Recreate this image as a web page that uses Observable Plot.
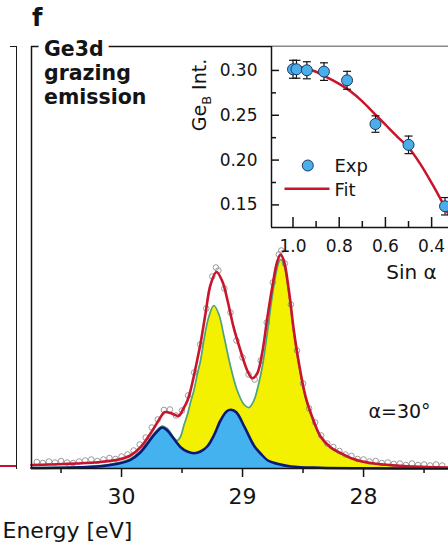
<!DOCTYPE html>
<html>
<head>
<meta charset="utf-8">
<script src="https://cdn.jsdelivr.net/npm/d3@7"></script>
<script src="https://cdn.jsdelivr.net/npm/@observablehq/plot@0.6"></script>
<style>
  html, body { margin: 0; padding: 0; background: #fff; }
  #wrap { position: relative; width: 448px; height: 546px; overflow: hidden; font-family: "DejaVu Sans", sans-serif; }
  #wrap svg { position: absolute; left: 0; top: 0; }
  .frag { position: absolute; }
</style>
</head>
<body>
<div id="wrap">
  <div class="frag" style="left:16px;top:46px;width:0;height:423px;border-left:1.5px solid #1a1a1a"></div>
  <div class="frag" style="left:10px;top:46px;width:7px;height:0;border-top:1.5px solid #1a1a1a"></div>
  <div class="frag" style="left:0;top:465px;width:16px;height:2px;background:#c8102e"></div>
</div>
<script>
// ---------- main panel: Ge3d spectrum (binding energy in eV, intensity arb. units) ----------
const energyDomain = [30.744, 27.298];
const intensityDomain = [0, 422];
const energyMajor = [30, 29, 28];
const energyMinor = [30.5, 29.5, 28.5, 27.5];

// total fit (red)
const fitE = [30.744,30.479,30.198,30.033,29.926,29.843,29.777,29.719,29.678,29.645,29.595,29.529,29.488,29.455,29.430,29.405,29.372,29.347,29.306,29.264,29.215,29.165,29.124,29.074,29.017,28.961,28.920,28.879,28.837,28.796,28.755,28.713,28.686,28.659,28.617,28.576,28.535,28.479,28.413,28.355,28.273,28.190,28.083,27.942,27.669,27.298];
const fitI = [3.5,4.5,6.3,8.7,13,21.3,32,43,51.3,56.3,55.5,52.5,60,68,78,91,110,125,155,184,196.5,186.5,168,141.3,118,98,90.3,95,116,150,181,207,214,208,178,138,106,72,48,32,21.3,15.5,9.5,5.5,2.5,1];

// blue component (navy outline, blue fill)
const compE = [30.744,30.198,30.033,29.926,29.843,29.777,29.719,29.664,29.622,29.568,29.512,29.457,29.402,29.347,29.292,29.237,29.182,29.132,29.095,29.050,28.983,28.901,28.851,28.791,28.713,28.598,28.355,28.050,27.298];
const compI = [0.5,2,4.7,8.7,16.3,26.3,35.3,41,38,29.7,21.3,17,15.3,17,22,33,48,57,58.7,56,41.3,22,15,8,4.7,2,0.7,0.2,0];

// blue + yellow envelope (green outline, yellow fill)
const envE = [30.744,30.198,30.033,29.926,29.843,29.777,29.719,29.664,29.622,29.568,29.540,29.512,29.485,29.455,29.430,29.402,29.374,29.347,29.320,29.278,29.237,29.195,29.153,29.099,29.044,28.988,28.947,28.906,28.868,28.835,28.796,28.755,28.713,28.686,28.659,28.617,28.576,28.535,28.479,28.413,28.355,28.273,28.190,28.083,27.942,27.669,27.298];
const envI = [0.8,2.6,5.6,9.8,17.6,27.8,36.8,42.5,40,31,28,32,43,54,66,78,94,108,128,152,163,154,132,102,78,64,61,68,84,103,135,172,201,209,204,175,135.5,104,70,46.5,31,20.5,14.8,9,5,2,0.8];

// experimental points (open circles)
const expE = [30.70,30.65,30.60,30.55,30.50,30.45,30.40,30.35,30.30,30.25,30.20,30.15,30.10,30.05,30.00,29.95,29.90,29.85,29.80,29.75,29.70,29.65,29.60,29.55,29.50,29.45,29.40,29.35,29.30,29.25,29.22,29.20,29.15,29.10,29.05,29.00,28.95,28.90,28.85,28.80,28.75,28.70,28.68,28.65,28.60,28.55,28.50,28.45,28.40,28.35,28.30,28.25,28.20,28.15,28.10,28.05,28.00,27.95,27.90,27.85,27.80,27.75,27.70,27.65,27.60,27.55,27.50,27.45,27.40,27.35];
const expI = [6.5,5.5,7,6,7.5,6,5.5,7,8,9,7.5,9,10.5,9.5,12,14,18,24,31,41,49,58.5,59,53,58,73,96,124,160,192,201,198,180,156,128,111,94,89,108,146,186,214,218,205,164,118,85,60,46,33,25,21.5,17.5,14,12.5,9.5,9,7,7.5,5.5,6,4.5,5,3.5,5,3.5,4,3,4,3];

// ---------- inset: Ge_B intensity vs sin(alpha) ----------
const sinDomain = [1.093, 0.327];
const geDomain = [0.1248, 0.3267];
const sinMajor = [1.0, 0.8, 0.6, 0.4];
const sinMinor = [0.9, 0.7, 0.5];
const geMajor = [0.15, 0.20, 0.25, 0.30];
const geMinor = [0.175, 0.225, 0.275];

const expSin = [1.0, 0.985, 0.940, 0.866, 0.766, 0.643, 0.500, 0.342];
const expGe  = [0.3013, 0.3013, 0.3002, 0.2987, 0.2890, 0.2402, 0.2170, 0.1485];
const expErr = [0.010, 0.010, 0.0095, 0.0098, 0.010, 0.0092, 0.0098, 0.0097];

const fitSin = [1.0, 0.95, 0.9, 0.85, 0.8, 0.75, 0.7, 0.65, 0.6, 0.55, 0.5, 0.45, 0.4, 0.35, 0.327];
const fitGe  = [0.306, 0.3025, 0.2985, 0.292, 0.285, 0.2765, 0.2655, 0.2525, 0.2395, 0.2265, 0.214, 0.196, 0.1745, 0.151, 0.1395];

// ---------- styles ----------
const RED = "#c8142c", NAVY = "#0b1a78", GREEN = "#4fa37c", BLUE = "#45b2f0", YELLOW = "#f3f000";
const PT_BLUE = "#4aaeea", INK = "#141414";
const FONT = "DejaVu Sans, sans-serif";

const toRows = (xs, ys, kx, ky) => xs.map((v, i) => ({[kx]: v, [ky]: ys[i]}));
const fit = toRows(fitE, fitI, "E", "I");
const comp = toRows(compE, compI, "E", "I");
const env = toRows(envE, envI, "E", "I");
const exp = toRows(expE, expI, "E", "I");
const insetExp = expSin.map((s, i) => ({s, v: expGe[i], lo: expGe[i] - expErr[i], hi: expGe[i] + expErr[i]}));
const insetFit = toRows(fitSin, fitGe, "s", "v");

const hLine = {draw(ctx, size) { const w = Math.sqrt(size / Math.PI); ctx.moveTo(-w, 0); ctx.lineTo(w, 0); }};

const main = Plot.plot({
  width: 448, height: 546,
  marginLeft: 31, marginRight: 0, marginTop: 46, marginBottom: 78,
  x: {domain: energyDomain, axis: null},
  y: {domain: intensityDomain, axis: null},
  style: {fontFamily: FONT, background: "transparent", overflow: "visible", color: INK},
  marks: [
    Plot.areaY(env, {x: "E", y: "I", fill: YELLOW, curve: "catmull-rom"}),
    Plot.areaY(comp, {x: "E", y: "I", fill: BLUE, curve: "catmull-rom"}),
    Plot.dot(exp, {x: "E", y: "I", r: 2.8, stroke: "#8f8f8f", strokeWidth: 0.9, fill: "none"}),
    Plot.line(env, {x: "E", y: "I", stroke: GREEN, strokeWidth: 1.7, curve: "catmull-rom"}),
    Plot.line(comp, {x: "E", y: "I", stroke: NAVY, strokeWidth: 2.6, curve: "catmull-rom"}),
    Plot.line(fit, {x: "E", y: "I", stroke: RED, strokeWidth: 2.6, curve: "catmull-rom"}),
    Plot.ruleX([energyDomain[0]], {stroke: INK, strokeWidth: 1.5}),
    Plot.ruleY([intensityDomain[0]], {stroke: INK, strokeWidth: 1.5}),
    Plot.ruleY([intensityDomain[1]], {stroke: INK, strokeWidth: 1.5}),
    Plot.axisX(energyMajor, {tickSize: 9, tickPadding: 10.5, fontSize: 22, strokeWidth: 1.5, tickFormat: d3.format("d"), label: null}),
    Plot.axisX(energyMinor, {tickSize: 5, strokeWidth: 1.5, tickFormat: () => "", label: null}),
    Plot.text(["Ge3d\ngrazing\nemission"], {frameAnchor: "top-left", dx: 12.5, dy: 57.3, textAnchor: "start", lineAnchor: "bottom",
      fontSize: 20.5, fontWeight: "bold", lineHeight: 1.16, fill: INK, stroke: "white", strokeWidth: 13, paintOrder: "stroke"}),
    Plot.text(["f"], {frameAnchor: "top-left", dx: 0.5, dy: -21, textAnchor: "start", lineAnchor: "bottom", fontSize: 24, fontWeight: "bold", fill: INK}),
    Plot.text(["α=30°"], {frameAnchor: "top-left", dx: 337, dy: 371, textAnchor: "start", lineAnchor: "bottom", fontSize: 19, fill: INK}),
    Plot.text(["Energy [eV]"], {frameAnchor: "bottom-left", dx: -29, dy: 69, textAnchor: "start", lineAnchor: "bottom", fontSize: 22, fill: INK})
  ]
});

const plotW = 448 - 271, plotH = 227 - 46;
const inset = Plot.plot({
  width: 448, height: 290,
  marginLeft: 271, marginRight: 0, marginTop: 46, marginBottom: 63,
  x: {domain: sinDomain, axis: null},
  y: {domain: geDomain, axis: null},
  style: {fontFamily: FONT, background: "transparent", overflow: "visible", color: INK},
  marks: [
    Plot.frame({fill: "white", stroke: "none"}),
    Plot.ruleX([sinDomain[0]], {stroke: INK, strokeWidth: 1.5}),
    Plot.ruleY([geDomain[0]], {stroke: INK, strokeWidth: 1.5}),
    Plot.tickX(sinMajor, {x: d => d, insetTop: plotH - 10, stroke: INK, strokeWidth: 1.5}),
    Plot.tickX(sinMinor, {x: d => d, insetTop: plotH - 6, stroke: INK, strokeWidth: 1.5}),
    Plot.tickY(geMajor, {y: d => d, insetRight: plotW - 8, stroke: INK, strokeWidth: 1.5}),
    Plot.tickY(geMinor, {y: d => d, insetRight: plotW - 5, stroke: INK, strokeWidth: 1.5}),
    Plot.axisX(sinMajor, {tickSize: 0, tickPadding: 12.5, fontSize: 17, tickFormat: d3.format(".1f"), label: null}),
    Plot.axisY(geMajor, {tickSize: 0, tickPadding: 14, fontSize: 17, tickFormat: d3.format(".2f"), label: null}),
    Plot.line(insetFit, {x: "s", y: "v", stroke: RED, strokeWidth: 2.5, curve: "catmull-rom"}),
    Plot.ruleX(insetExp, {x: "s", y1: "lo", y2: "hi", stroke: INK, strokeWidth: 1.2}),
    Plot.dot(insetExp, {x: "s", y: "lo", symbol: hLine, r: 4, stroke: INK, strokeWidth: 1.2}),
    Plot.dot(insetExp, {x: "s", y: "hi", symbol: hLine, r: 4, stroke: INK, strokeWidth: 1.2}),
    Plot.dot(insetExp, {x: "s", y: "v", r: 5.5, fill: PT_BLUE, stroke: "#1c3a63", strokeWidth: 1}),
    // legend
    Plot.dot(["Exp"], {frameAnchor: "top-left", dx: 36.3, dy: 119, r: 5.5, fill: PT_BLUE, stroke: "#1c3a63", strokeWidth: 1}),
    Plot.text(["Exp"], {frameAnchor: "top-left", dx: 63, dy: 125.7, textAnchor: "start", lineAnchor: "bottom", fontSize: 18, fill: INK}),
    Plot.dot(["Fit"], {frameAnchor: "top-left", dx: 35.5, dy: 142.3, symbol: hLine, r: 22.5, stroke: RED, strokeWidth: 2.5}),
    Plot.text(["Fit"], {frameAnchor: "top-left", dx: 63, dy: 149, textAnchor: "start", lineAnchor: "bottom", fontSize: 18, fill: INK}),
    Plot.text(["Sin α"], {frameAnchor: "bottom-left", dx: 140, dy: 51, textAnchor: "middle", lineAnchor: "bottom", fontSize: 20, fill: INK})
  ]
});

// rotated y label with subscript
const lab = d3.select(inset).append("text")
  .attr("transform", "translate(206,95) rotate(-90)")
  .attr("text-anchor", "middle")
  .attr("font-family", FONT)
  .attr("font-size", 19)
  .attr("fill", INK);
lab.append("tspan").text("Ge");
lab.append("tspan").attr("font-size", 13).attr("dy", 5).text("B");
lab.append("tspan").attr("dy", -5).text(" Int.");

const wrap = document.getElementById("wrap");
wrap.appendChild(main);
wrap.appendChild(inset);
</script>
</body>
</html>
